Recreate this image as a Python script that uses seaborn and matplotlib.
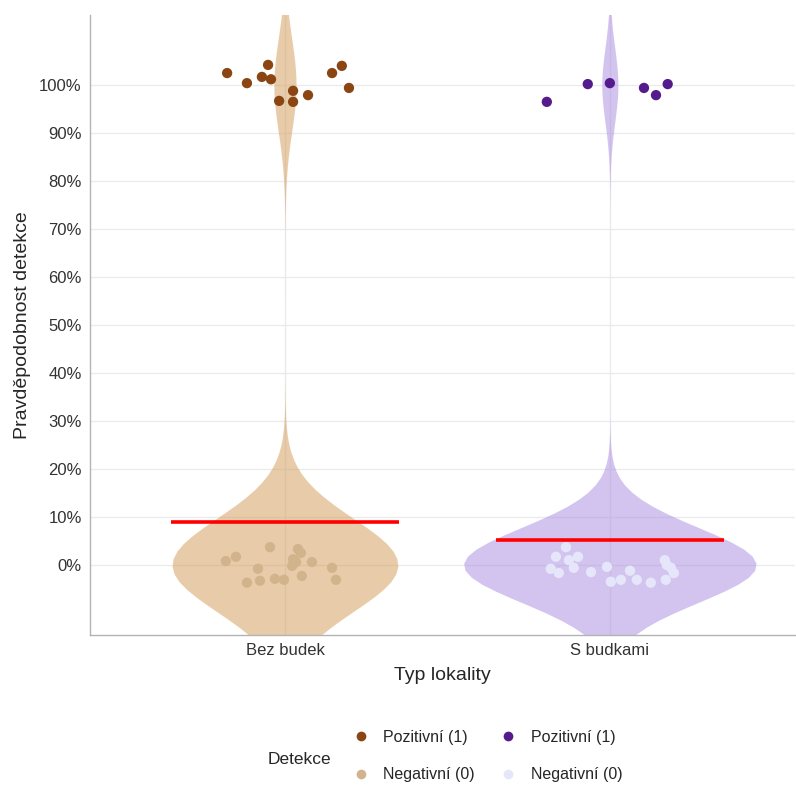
import numpy as np
import pandas as pd
import seaborn as sns
import matplotlib.pyplot as plt
from matplotlib.lines import Line2D

# Categories and counts behind the violins
lokality = ['Bez budek', 'S budkami']
n_pozitivni = [12, 6]
n_negativni = [122, 109]

# Jittered points (offset from category centre, value)
bez_pos_x = [-0.178, -0.117, -0.071, -0.052, -0.043, -0.018, 0.025, 0.025, 0.071, 0.145, 0.175, 0.197]
bez_pos_y = [1.025, 1.004, 1.017, 1.042, 1.012, 0.967, 0.988, 0.965, 0.979, 1.025, 1.040, 0.994]
bez_neg_x = [-0.182, -0.151, -0.046, -0.083, -0.117, -0.077, -0.031, -0.003, 0.040, 0.049,
             0.025, 0.022, 0.052, 0.083, 0.145, 0.157, 0.034]
bez_neg_y = [0.008, 0.017, 0.037, -0.008, -0.037, -0.033, -0.029, -0.031, 0.033, 0.025,
             0.012, -0.002, -0.023, 0.006, -0.006, -0.031, 0.006]
s_pos_x = [-0.194, -0.068, 0.0, 0.105, 0.142, 0.178]
s_pos_y = [0.965, 1.002, 1.004, 0.994, 0.979, 1.002]
s_neg_x = [-0.135, -0.166, -0.098, -0.126, -0.182, -0.157, -0.111, -0.058, -0.009, 0.003,
           0.034, 0.062, 0.083, 0.126, 0.169, 0.175, 0.188, 0.197, 0.172]
s_neg_y = [0.037, 0.017, 0.017, 0.010, -0.008, -0.017, -0.006, -0.015, -0.004, -0.035,
           -0.031, -0.012, -0.031, -0.037, 0.010, 0.0, -0.006, -0.017, -0.031]

violin_barvy = ['#D39B57', '#A78BE1']
pos_barvy = ['#8B4513', '#551A8B']
neg_barvy = ['#D2B48C', '#E6E6FA']

# long table for the violins
rows = []
for lok, p, n in zip(lokality, n_pozitivni, n_negativni):
    for v in np.repeat([0, 1], [n, p]):
        rows.append({'Typ lokality': lok, 'Detekce': v})
df = pd.DataFrame(rows)
prumer = df.groupby('Typ lokality')['Detekce'].mean().reindex(lokality)

sns.set_style('white')
plt.rcParams['font.family'] = ['Liberation Sans', 'DejaVu Sans']

fig = plt.figure(figsize=(7.96, 7.85), dpi=100)
ax = fig.add_axes([0.1131, 0.1911, 0.8857, 0.7898])

for y in np.arange(0, 1.01, 0.1):
    ax.axhline(y, color='#EBEBEB', lw=1, zorder=0)
for i in range(len(lokality)):
    ax.axvline(i, color='#EBEBEB', lw=1, zorder=0)

sns.violinplot(data=df, x='Typ lokality', y='Detekce', hue='Typ lokality', order=lokality,
               palette=violin_barvy, density_norm='area', common_norm=True,
               bw_adjust=0.9, cut=3, inner=None, linewidth=0, width=0.9,
               saturation=1, alpha=0.5, legend=False, ax=ax)

body = [(bez_pos_x, bez_pos_y, bez_neg_x, bez_neg_y), (s_pos_x, s_pos_y, s_neg_x, s_neg_y)]
for i, (px, py, nx, ny) in enumerate(body):
    ax.scatter(np.array(nx) + i, ny, s=55, color=neg_barvy[i], edgecolor='none', zorder=3)
    ax.scatter(np.array(px) + i, py, s=55, color=pos_barvy[i], edgecolor='none', zorder=3)

for i, lok in enumerate(lokality):
    ax.hlines(prumer[lok], i - 0.35, i + 0.35, color='red', lw=2.6, zorder=4)

ax.set_xlim(-0.6, 1.57)
ax.set_ylim(-0.146, 1.146)
ax.set_yticks(np.arange(0, 1.01, 0.1))
ax.set_yticklabels([f'{int(round(t * 100))}%' for t in np.arange(0, 1.01, 0.1)])
ax.tick_params(axis='both', length=0, labelsize=12, colors='#333333', pad=6)
ax.set_xlabel('Typ lokality', fontsize=14, labelpad=6)
ax.set_ylabel('Pravděpodobnost detekce', fontsize=14, labelpad=6)
for s in ['top', 'right']:
    ax.spines[s].set_visible(False)
for s in ['left', 'bottom']:
    ax.spines[s].set_color('#B3B3B3')
    ax.spines[s].set_linewidth(1)

handles = [Line2D([], [], marker='o', ls='', ms=7, color=c, mec='none')
           for c in [pos_barvy[0], neg_barvy[0], pos_barvy[1], neg_barvy[1]]]
labels = ['Pozitivní (1)', 'Negativní (0)', 'Pozitivní (1)', 'Negativní (0)']
fig.legend(handles, labels, ncol=2, frameon=False, fontsize=11.5,
           loc='center left', bbox_to_anchor=(345 / 796, 1 - 756 / 785),
           handlelength=1, handletextpad=0.9, columnspacing=1.6, labelspacing=1.4,
           borderpad=0)
fig.text(268 / 796, 1 - 759 / 785, 'Detekce', fontsize=12.5, va='center', ha='left')

fig.savefig('out.png', dpi=100)
